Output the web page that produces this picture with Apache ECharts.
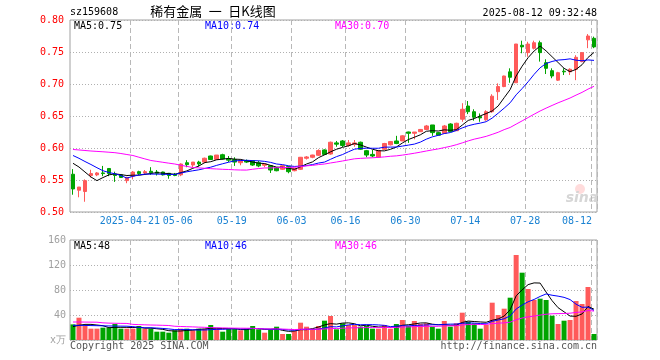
<!DOCTYPE html>
<html><head><meta charset="utf-8">
<script src="https://cdn.jsdelivr.net/npm/echarts@6/dist/echarts.min.js"></script>
<style>html,body{margin:0;padding:0;background:#fff}#c{width:660px;height:360px}</style>
</head><body><div id="c"></div>
<script>
const dates = ['2025-04-07','2025-04-08','2025-04-09','2025-04-10','2025-04-11','2025-04-14','2025-04-15','2025-04-16','2025-04-17','2025-04-18',
'2025-04-21','2025-04-22','2025-04-23','2025-04-24','2025-04-25','2025-04-28','2025-04-29','2025-04-30',
'2025-05-06','2025-05-07','2025-05-08','2025-05-09','2025-05-12','2025-05-13','2025-05-14','2025-05-15','2025-05-16',
'2025-05-19','2025-05-20','2025-05-21','2025-05-22','2025-05-23','2025-05-26','2025-05-27','2025-05-28','2025-05-29','2025-05-30',
'2025-06-03','2025-06-04','2025-06-05','2025-06-06','2025-06-09','2025-06-10','2025-06-11','2025-06-12','2025-06-13',
'2025-06-16','2025-06-17','2025-06-18','2025-06-19','2025-06-20','2025-06-23','2025-06-24','2025-06-25','2025-06-26','2025-06-27',
'2025-06-30','2025-07-01','2025-07-02','2025-07-03','2025-07-04','2025-07-07','2025-07-08','2025-07-09','2025-07-10','2025-07-11',
'2025-07-14','2025-07-15','2025-07-16','2025-07-17','2025-07-18','2025-07-21','2025-07-22','2025-07-23','2025-07-24','2025-07-25',
'2025-07-28','2025-07-29','2025-07-30','2025-07-31','2025-08-01','2025-08-04','2025-08-05','2025-08-06','2025-08-07','2025-08-08',
'2025-08-11','2025-08-12'];

const opens = [0.559,0.534,0.532,0.557,0.558,0.561,0.568,0.559,0.558,0.549,
0.556,0.563,0.561,0.5636,0.5625,0.5625,0.5605,0.559,0.558,0.577,
0.5734,0.578,0.578,0.5875,0.582,0.5895,0.583,0.582,0.577,0.580,
0.580,0.577,0.573,0.5723,0.569,0.5667,0.571,0.5645,0.5667,0.584,
0.5855,0.5886,0.597,0.5906,0.608,0.611,0.604,0.6058,0.609,0.5958,
0.590,0.5855,0.598,0.605,0.611,0.611,0.625,0.623,0.6255,0.629,
0.636,0.624,0.623,0.6375,0.627,0.645,0.6656,0.6567,0.649,0.644,
0.6567,0.688,0.696,0.719,0.702,0.7605,0.749,0.7558,0.7645,0.7333,
0.7208,0.706,0.720,0.719,0.723,0.735,0.769,0.7714];

const closes = [0.536,0.539,0.549,0.560,0.561,0.560,0.560,0.557,0.554,0.554,
0.5625,0.560,0.563,0.5614,0.5605,0.558,0.557,0.557,0.575,0.574,
0.578,0.575,0.584,0.582,0.589,0.583,0.581,0.578,0.580,0.578,
0.5734,0.572,0.575,0.5656,0.5645,0.5723,0.563,0.568,0.5855,0.586,
0.589,0.596,0.590,0.609,0.606,0.604,0.608,0.608,0.598,0.589,
0.5875,0.596,0.607,0.610,0.607,0.619,0.623,0.625,0.629,0.6344,
0.624,0.620,0.6344,0.6255,0.6386,0.6605,0.6567,0.648,0.647,0.6567,
0.681,0.696,0.7125,0.7105,0.7625,0.758,0.7625,0.7645,0.749,0.7245,
0.7125,0.7177,0.719,0.723,0.7417,0.749,0.775,0.758];

const lows = [0.527,0.523,0.516,0.554,0.556,0.556,0.556,0.547,0.554,0.545,
0.551,0.558,0.558,0.558,0.557,0.557,0.552,0.556,0.556,0.570,
0.570,0.571,0.576,0.582,0.582,0.582,0.578,0.572,0.573,0.5765,
0.572,0.570,0.570,0.561,0.5636,0.5656,0.5605,0.5636,0.5656,0.582,
0.584,0.5875,0.589,0.5895,0.602,0.6015,0.602,0.602,0.597,0.5855,
0.5855,0.585,0.597,0.604,0.606,0.611,0.608,0.6136,0.625,0.628,
0.619,0.620,0.622,0.625,0.6266,0.641,0.653,0.6427,0.641,0.6427,
0.655,0.675,0.695,0.702,0.7015,0.748,0.7427,0.754,0.735,0.7156,
0.709,0.7047,0.714,0.714,0.706,0.734,0.756,0.756];

const highs = [0.567,0.539,0.551,0.566,0.5625,0.572,0.568,0.563,0.558,0.555,
0.564,0.5645,0.5656,0.570,0.5656,0.563,0.561,0.561,0.576,0.581,
0.578,0.580,0.585,0.588,0.589,0.591,0.5875,0.5855,0.582,0.582,
0.581,0.580,0.576,0.573,0.570,0.573,0.572,0.569,0.586,0.5875,
0.5895,0.598,0.598,0.610,0.611,0.6125,0.6125,0.6125,0.610,0.597,
0.597,0.597,0.608,0.611,0.619,0.620,0.6255,0.625,0.6297,0.636,
0.636,0.625,0.636,0.6386,0.6395,0.670,0.6734,0.6605,0.654,0.659,
0.684,0.701,0.713,0.7245,0.7625,0.7677,0.766,0.7677,0.7677,0.7386,
0.7245,0.719,0.7245,0.7245,0.745,0.750,0.778,0.774];

// volume, unit: 万
const volumes = [25,35.7,22.9,18.1,18.1,19.7,19.7,25.6,18.1,18.1,
18.1,22.4,18.1,18.1,13.3,13.3,11.7,15.5,18.1,18.1,
15.5,18.1,18.1,24,18.1,13.3,18.1,18.1,15.5,18.1,
22.4,17.1,11.7,17.1,21.3,9.6,9.6,14.4,27.7,21.3,
18.1,22.4,30.9,38.4,17.1,26.7,24,24,21.3,22.4,
18.1,18.1,24,18.1,25.6,32,22.4,30.4,25.6,26.7,
21.3,18.1,30.4,21.3,26.7,43.7,29.3,26.7,18.1,24,
59.7,40,50.1,67.7,136,107.7,81.6,64,66.1,64,
38.9,25.6,30.9,32,62.4,57.6,84.8,9.6];

// moving-average values before a full window exists
const ma5Lead = [0.5761,0.5703,0.5625,0.5547];
const ma10Lead = [0.5883,0.5839,0.5789,0.5742,0.5692,0.5645,0.5617,0.5597,0.5570];
const ma30Lead = [0.5977,0.5969,0.5961,0.5953,0.5947,0.5941,0.5934,0.5927,0.5914,0.5898,
0.5883,0.5856,0.5830,0.5805,0.5791,0.5777,0.5763,0.5750,0.5730,0.5713,
0.5695,0.5689,0.5683,0.5677,0.5672,0.5667,0.5664,0.5659,0.5656];
const vma5Lead = [21.5,23.5,25,25];
const vma10Lead = [23.5,23.5,23.3,23.1,22.9,22.7,22.5,22.3,22.2];
const vma30Lead = [28.8,28.8,28.7,28.6,28.5,27.5,27,26.8,26.6,26.5,
25,24.6,24.3,24,23.8,23.5,23.2,22,21.6,21.3,
21,20.6,20.3,19.8,19.6,19.4,19.2,19,18.9];

const tickIdx = [10,18,27,37,46,56,66,76,87];
const tickText = ['2025-04-21','05-06','05-19','06-03','06-16','06-30','07-14','07-28','08-12'];

const UP = '#ff5a5a', DOWN = '#00a400';
const MONO = '"DejaVu Sans Mono", "Liberation Mono", monospace';

function movingAvg(src, n, lead) {
  return src.map(function (_, i) {
    if (i < n - 1) return lead[i];
    let s = 0;
    for (let k = i - n + 1; k <= i; k++) s += src[k];
    return +(s / n).toFixed(4);
  });
}

const tickSet = new Set(tickIdx);
const candleData = dates.map((d, i) => [opens[i], closes[i], lows[i], highs[i]]);
const volData = volumes.map((v, i) => ({ value: v, itemStyle: { color: closes[i] >= opens[i] ? UP : DOWN } }));

const chart = echarts.init(document.getElementById('c'), null, { renderer: 'canvas' });

const splitX = { show: true, interval: (i) => tickSet.has(i), lineStyle: { color: '#b8b8b8', type: [5, 3], width: 1 } };
const dotY = { show: true, lineStyle: { color: '#b0b0b0', type: [1, 2], width: 1 } };

chart.setOption({
  animation: false,
  backgroundColor: '#fff',
  grid: [
    { left: 70, top: 20, width: 527, height: 192, show: true, borderColor: '#a0a0a0', borderWidth: 1, backgroundColor: 'transparent' },
    { left: 70, top: 240, width: 527, height: 100, show: true, borderColor: '#a0a0a0', borderWidth: 1, backgroundColor: 'transparent' }
  ],
  xAxis: [
    { type: 'category', gridIndex: 0, data: dates, boundaryGap: true,
      axisLine: { show: false }, axisTick: { show: false },
      splitLine: splitX,
      axisLabel: { interval: (i) => tickSet.has(i), margin: 4, color: '#1a82d2', fontFamily: MONO, fontSize: 10,
        formatter: function (v, i) {
          const k = tickIdx.indexOf(i);
          if (k < 0) return '';
          return (i === 87 ? '{e|' : '{a|') + tickText[k] + '}';
        },
        rich: { a: { color: '#1a82d2', fontFamily: MONO, fontSize: 10, padding: [0, 6, 0, 0] },
                e: { color: '#1a82d2', fontFamily: MONO, fontSize: 10, padding: [0, 34, 0, 0] } } } },
    { type: 'category', gridIndex: 1, data: dates, boundaryGap: true,
      axisLine: { show: false }, axisTick: { show: false }, axisLabel: { show: false },
      splitLine: splitX }
  ],
  yAxis: [
    { type: 'value', gridIndex: 0, min: 0.5, max: 0.8, interval: 0.05,
      axisLine: { show: false }, axisTick: { show: false }, splitLine: dotY,
      axisLabel: { margin: 6, color: '#ff0000', fontFamily: MONO, fontSize: 10, formatter: (v) => v.toFixed(2) } },
    { type: 'value', gridIndex: 1, min: 0, max: 160, interval: 40,
      axisLine: { show: false }, axisTick: { show: false }, splitLine: dotY,
      axisLabel: { margin: 4, color: '#a0a0a0', fontFamily: MONO, fontSize: 10, formatter: (v) => v === 0 ? 'x万' : String(v) } }
  ],
  series: [
    { type: 'candlestick', xAxisIndex: 0, yAxisIndex: 0, data: candleData, barWidth: 4,
      itemStyle: { color: UP, color0: DOWN, borderColor: UP, borderColor0: DOWN, borderWidth: 1 } },
    { type: 'line', xAxisIndex: 0, yAxisIndex: 0, data: movingAvg(closes, 5, ma5Lead), symbol: 'none', lineStyle: { color: '#000', width: 1 } },
    { type: 'line', xAxisIndex: 0, yAxisIndex: 0, data: movingAvg(closes, 10, ma10Lead), symbol: 'none', lineStyle: { color: '#0000ff', width: 1 } },
    { type: 'line', xAxisIndex: 0, yAxisIndex: 0, data: movingAvg(closes, 30, ma30Lead), symbol: 'none', lineStyle: { color: '#ff00ff', width: 1 } },
    { type: 'bar', xAxisIndex: 1, yAxisIndex: 1, data: volData, barWidth: 5 },
    { type: 'line', xAxisIndex: 1, yAxisIndex: 1, data: movingAvg(volumes, 5, vma5Lead), symbol: 'none', lineStyle: { color: '#000', width: 1 } },
    { type: 'line', xAxisIndex: 1, yAxisIndex: 1, data: movingAvg(volumes, 10, vma10Lead), symbol: 'none', lineStyle: { color: '#0000ff', width: 1 } },
    { type: 'line', xAxisIndex: 1, yAxisIndex: 1, data: movingAvg(volumes, 30, vma30Lead), symbol: 'none', lineStyle: { color: '#ff00ff', width: 1 } }
  ],
  graphic: [
    { type: 'text', left: 70, top: 7, style: { text: 'sz159608', fill: '#000', font: '10px ' + MONO } },
    { type: 'text', x: 213, y: 11, style: { text: '稀有金属\u2002一\u2002日K线图', fill: '#000', font: '13px "Noto Sans CJK SC"', align: 'center', verticalAlign: 'middle' } },
    { type: 'text', x: 597, y: 13, style: { text: '2025-08-12 09:32:48', fill: '#000', font: '10px ' + MONO, align: 'right', verticalAlign: 'middle' } },
    { type: 'text', x: 74, y: 26, style: { text: 'MA5:0.75', fill: '#000', font: '10px ' + MONO, verticalAlign: 'middle' } },
    { type: 'text', x: 205, y: 26, style: { text: 'MA10:0.74', fill: '#0000ff', font: '10px ' + MONO, verticalAlign: 'middle' } },
    { type: 'text', x: 335, y: 26, style: { text: 'MA30:0.70', fill: '#ff00ff', font: '10px ' + MONO, verticalAlign: 'middle' } },
    { type: 'text', x: 74, y: 246, style: { text: 'MA5:48', fill: '#000', font: '10px ' + MONO, verticalAlign: 'middle' } },
    { type: 'text', x: 205, y: 246, style: { text: 'MA10:46', fill: '#0000ff', font: '10px ' + MONO, verticalAlign: 'middle' } },
    { type: 'text', x: 335, y: 246, style: { text: 'MA30:46', fill: '#ff00ff', font: '10px ' + MONO, verticalAlign: 'middle' } },
    { type: 'text', x: 70, y: 346, style: { text: 'Copyright 2025 SINA.COM', fill: '#555', font: '10px ' + MONO, verticalAlign: 'middle' } },
    { type: 'text', x: 597, y: 346, style: { text: 'http://finance.sina.com.cn', fill: '#555', font: '10px ' + MONO, align: 'right', verticalAlign: 'middle' } },
    { type: 'circle', shape: { cx: 580, cy: 189, r: 5 }, style: { fill: 'rgba(255,140,140,0.30)' }, z: 0 },
    { type: 'text', x: 582, y: 198, style: { text: 'sina', fill: '#d6d6d6', font: 'italic bold 14px "DejaVu Sans"', align: 'center', verticalAlign: 'middle' }, z: 0 }
  ]
});
</script>
</body></html>
